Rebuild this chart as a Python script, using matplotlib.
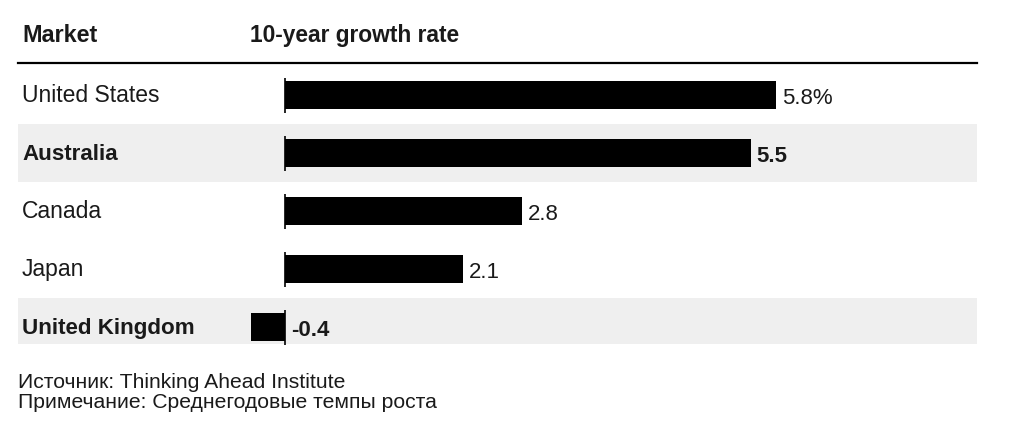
import matplotlib
matplotlib.use("Agg")
import matplotlib.pyplot as plt

# ---- data ----
markets = ["United States", "Australia", "Canada", "Japan", "United Kingdom"]
growth = [5.8, 5.5, 2.8, 2.1, -0.4]
value_labels = ["5.8%", "5.5", "2.8", "2.1", "-0.4"]
highlight = [False, True, False, False, True]
header_market = "Market"
header_value = "10-year growth rate"
footer_lines = ["Источник: Thinking Ahead Institute",
                "Примечание: Среднегодовые темпы роста"]

plt.rcParams['font.family'] = ['Liberation Sans', 'DejaVu Sans']

W, H = 1024, 435
fig = plt.figure(figsize=(W / 100, H / 100), dpi=100)
ax = fig.add_axes([0, 0, 1, 1])
ax.set_axis_off()

# pixel layout
zero_px = 285.0
px_per_unit = 84.66
row0_px = 96.0
row_px = 58.0
ax.set_xlim(-zero_px / px_per_unit, (W - zero_px) / px_per_unit)
ax.set_ylim((H - row0_px) / row_px, (0 - row0_px) / row_px)

def py(p):  # pixel y -> data y
    return (p - row0_px) / row_px

def px(p):  # pixel x -> data x
    return (p - zero_px) / px_per_unit

text_color = "#1a1a1a"
shade = "#efefef"
left, right = 18 / W, 977 / W
table_bottom = py(345)

# shaded rows
for i, hl in enumerate(highlight):
    if hl:
        ax.axhspan(i - 0.5, min(i + 0.5, table_bottom), xmin=left, xmax=right,
                   color=shade, zorder=0, lw=0)

# header
ax.text(px(22), py(42), header_market, fontsize=16.8, fontweight='bold',
        color=text_color, va='baseline', ha='left')
ax.text(px(250), py(42), header_value, fontsize=16.4, fontweight='bold',
        color=text_color, va='baseline', ha='left')
ax.axhline(py(63.5), xmin=left, xmax=right, color='black', lw=1.6, zorder=3)

# bars
ys = list(range(len(markets)))
ax.barh(ys, growth, height=28 / row_px, color='black', zorder=2, lw=0)
for y in ys:
    ax.vlines(0, y - 17.5 / row_px, y + 17.5 / row_px, color='black', lw=1.2, zorder=3)

for i, (m, v, lab, hl) in enumerate(zip(markets, growth, value_labels, highlight)):
    w = 'bold' if hl else 'normal'
    ax.text(px(22), i + 6 / row_px, m, fontsize=16.1 if hl else 16.5, fontweight=w,
            color=text_color, va='baseline', ha='left')
    ax.text(max(v, 0) + 6 / px_per_unit, i + 8.5 / row_px, lab, fontsize=16,
            fontweight=w, color=text_color, va='baseline', ha='left')

# footer
for k, line in enumerate(footer_lines):
    fig.text(18 / W, 1 - (388 + 20 * k) / H, line, fontsize=15.2,
             color=text_color, va='baseline', ha='left')

fig.savefig("out.png", dpi=100, facecolor='white')
